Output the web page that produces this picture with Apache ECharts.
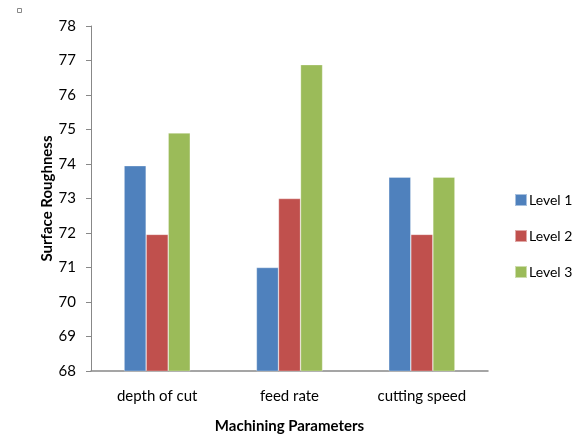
<!DOCTYPE html>
<html>
<head>
<meta charset="utf-8">
<script src="https://cdn.jsdelivr.net/npm/echarts@6/dist/echarts.min.js"></script>
<style>
    html, body { margin: 0; padding: 0; background: #fff; }
    #chart { width: 574px; height: 435px; }
</style>
</head>
<body>
<div id="chart"></div>
<script>
const categories = ['depth of cut', 'feed rate', 'cutting speed']
const level1 = [73.95, 71.0, 73.62]
const level2 = [71.96, 73.0, 71.96]
const level3 = [74.9, 76.88, 73.62]
const seriesNames = ['Level 1', 'Level 2', 'Level 3']
const colors = ['#4F81BD', '#C0504D', '#9BBB59']

const font = 'Lato, "Open Sans", sans-serif'

const chart = echarts.init(document.getElementById('chart'))

const makeBar = (name, data) => ({
    name,
    type: 'bar',
    data,
    barGap: '0%',
    barCategoryGap: '50%',
    itemStyle: { borderColor: 'rgba(255,255,255,0.5)', borderWidth: 0.6 },
})

chart.setOption({
    animation: false,
    color: colors,
    textStyle: { fontFamily: font },
    grid: { left: 91, right: 86, top: 26, bottom: 64, outerBoundsMode: 'none' },
    legend: {
        orient: 'vertical',
        left: 514,
        top: 193,
        padding: 0,
        itemWidth: 12,
        itemHeight: 12,
        itemGap: 22,
        icon: 'rect',
        textStyle: { fontSize: 14, color: '#000', fontFamily: font, padding: [0, 0, 0, -3] },
        data: seriesNames,
    },
    graphic: [
        {
            type: 'rect',
            left: 17,
            top: 8,
            shape: { width: 4, height: 4 },
            style: { fill: '#fff', stroke: '#888', lineWidth: 1 },
        },
    ],
    xAxis: {
        type: 'category',
        data: categories,
        name: 'Machining Parameters',
        nameLocation: 'middle',
        nameGap: 48,
        nameMoveOverlap: false,
        nameTextStyle: { fontSize: 15, fontWeight: 'bold', color: '#000', fontFamily: font },
        axisLine: { lineStyle: { color: '#888', width: 1.5 } },
        axisTick: { show: false },
        axisLabel: { fontSize: 15, color: '#000', margin: 18, fontFamily: font },
    },
    yAxis: {
        type: 'value',
        min: 68,
        max: 78,
        interval: 1,
        name: 'Surface Roughness',
        nameLocation: 'middle',
        nameGap: 36,
        nameMoveOverlap: false,
        nameTextStyle: { fontSize: 15, fontWeight: 'bold', color: '#000', fontFamily: font },
        axisLine: { show: true, lineStyle: { color: '#888', width: 1 } },
        axisTick: { show: true, length: 5, lineStyle: { color: '#888' } },
        axisLabel: { fontSize: 15, color: '#000', margin: 15, fontFamily: font },
        splitLine: { show: false },
    },
    series: [
        makeBar(seriesNames[0], level1),
        makeBar(seriesNames[1], level2),
        makeBar(seriesNames[2], level3),
    ],
})
</script>
</body>
</html>
